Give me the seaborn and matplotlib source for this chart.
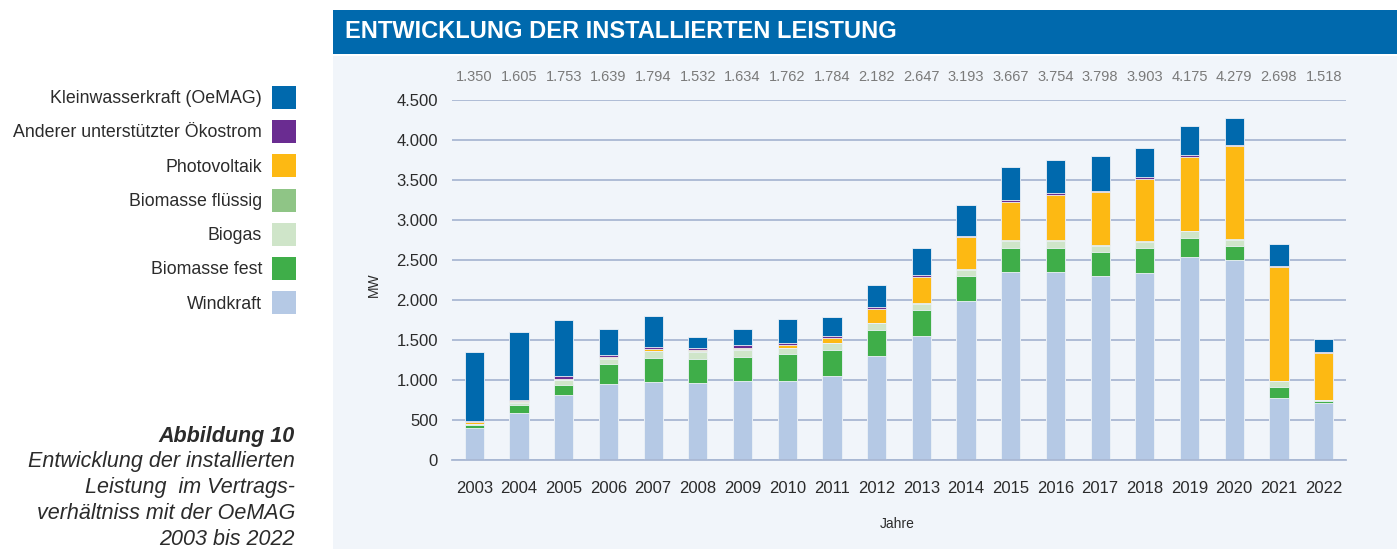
import matplotlib.pyplot as plt
import numpy as np
import pandas as pd
import seaborn as sns
from matplotlib.patches import Rectangle, Patch

# ---------------------------------------------------------------- data (MW)
years = [str(y) for y in range(2003, 2023)]
windkraft = [400, 590, 815, 950, 975, 960, 985, 985, 1055, 1305,
             1555, 1985, 2350, 2350, 2295, 2340, 2540, 2495, 780, 710]
biomasse_fest = [35, 95, 125, 255, 300, 300, 305, 335, 320, 318,
                 315, 315, 305, 305, 300, 305, 238, 175, 130, 30]
biogas = [10, 30, 55, 60, 85, 95, 85, 75, 85, 85,
          80, 80, 80, 80, 80, 80, 80, 80, 75, 12]
biomasse_fluessig = [5, 8, 8, 8, 8, 8, 8, 8, 8, 10,
                     10, 10, 10, 10, 10, 10, 10, 10, 8, 3]
photovoltaik = [20, 10, 12, 15, 20, 18, 20, 30, 55, 170,
                330, 400, 485, 570, 665, 780, 920, 1160, 1415, 585]
oekostrom = [20, 20, 30, 25, 25, 25, 30, 25, 25, 25,
             20, 15, 20, 18, 18, 18, 20, 15, 20, 12]
kleinwasserkraft = [860, 852, 708, 326, 381, 126, 201, 304, 236, 269,
                    337, 388, 417, 421, 430, 370, 367, 344, 270, 166]
totals = [1350, 1605, 1753, 1639, 1794, 1532, 1634, 1762, 1784, 2182,
          2647, 3193, 3667, 3754, 3798, 3903, 4175, 4279, 2698, 1518]

labels = ["Windkraft", "Biomasse fest", "Biogas", "Biomasse flüssig",
          "Photovoltaik", "Anderer unterstützter Ökostrom", "Kleinwasserkraft (OeMAG)"]
colors = ["#B5C9E5", "#3FAE49", "#CFE5C9", "#8FC586", "#FDB913", "#6A2C91", "#0069AD"]

df = pd.DataFrame({"Jahr": years,
                   labels[0]: windkraft, labels[1]: biomasse_fest, labels[2]: biogas,
                   labels[3]: biomasse_fluessig, labels[4]: photovoltaik,
                   labels[5]: oekostrom, labels[6]: kleinwasserkraft})
cum = df[labels].cumsum(axis=1)

sns.set_style("white")
plt.rcParams['font.family'] = ['Liberation Sans', 'DejaVu Sans']
txt = "#2b2b2b"

fig = plt.figure(figsize=(13.97, 5.49), dpi=100)

# panels
fig.patches.append(Rectangle((333 / 1397, 0), 1, 1 - 56 / 549, transform=fig.transFigure,
                             facecolor="#F1F5FA", edgecolor="none", zorder=-2))
fig.patches.append(Rectangle((333 / 1397, 1 - 54 / 549), 1, 44 / 549, transform=fig.transFigure,
                             facecolor="#0069AD", edgecolor="none", zorder=-2))
fig.text(345 / 1397, 1 - 32 / 549, "ENTWICKLUNG DER INSTALLIERTEN LEISTUNG", color="white",
         fontsize=17, fontweight="bold", va="center", ha="left")

ax = fig.add_axes([452 / 1397, 1 - 460 / 549, 894 / 1397, 360 / 549])
ax.set_facecolor("none")

# stacked bars: draw cumulative heights from top layer down
for lab, col in zip(labels[::-1], colors[::-1]):
    sns.barplot(x=df["Jahr"], y=cum[lab], color=col, saturation=1, width=0.43,
                errorbar=None, edgecolor="#EEF2F8", linewidth=0.6, ax=ax)

ax.set_ylim(0, 4500)
ax.set_xlim(-0.5, len(years) - 0.5)
yt = np.arange(0, 4501, 500)
ax.set_yticks(yt)
ax.set_yticklabels([f"{v:,}".replace(",", ".") for v in yt], fontsize=12, color=txt)
ax.set_xticks(range(len(years)))
ax.set_xticklabels(years, fontsize=12, color=txt)
ax.set_xticks(np.arange(-0.5, len(years), 1), minor=True)
ax.tick_params(axis="y", length=0, pad=10)
ax.tick_params(axis="x", which="major", length=0, pad=15)
ax.tick_params(axis="x", which="minor", length=4.5, width=1.2, color="#A9B8D3", direction="out")

ax.set_axisbelow(True)
ax.grid(axis="y", color="#A9B8D3", linewidth=1.3)
for s in ["top", "right", "left"]:
    ax.spines[s].set_visible(False)
ax.spines["bottom"].set_color("#A9B8D3")
ax.spines["bottom"].set_linewidth(1.3)

ax.set_ylabel("MW", fontsize=10, color=txt)
ax.yaxis.set_label_coords(-0.080, 0.486)
ax.set_xlabel("Jahre", fontsize=10, color=txt)
ax.xaxis.set_label_coords(0.498, -0.158)

for i, t in enumerate(totals):
    ax.text(i, 1.064, f"{t:,}".replace(",", "."), transform=ax.get_xaxis_transform(),
            ha="center", va="center", fontsize=10.5, color="#7a7a7a")

# legend on the left
handles = [Patch(facecolor=c, edgecolor="none") for c in colors[::-1]]
fig.legend(handles, labels[::-1], loc="upper right", bbox_to_anchor=(296 / 1397, 1 - 86 / 549),
           frameon=False, markerfirst=False, fontsize=12.8, handlelength=1.36, handleheight=1.6,
           labelspacing=0.64, handletextpad=0.55, borderpad=0, borderaxespad=0,
           labelcolor=txt)

# caption
cap_x = 295 / 1397
fig.text(cap_x, 1 - 442 / 549, "Abbildung 10", ha="right", va="baseline", fontsize=15.5,
         fontweight="bold", fontstyle="italic", color=txt)
cap_lines = ["Entwicklung der installierten", "Leistung  im Vertrags-",
             "verhältniss mit der OeMAG", "2003 bis 2022"]
for k, line in enumerate(cap_lines):
    fig.text(cap_x, 1 - (467 + 26 * k) / 549, line, ha="right", va="baseline",
             fontsize=15.5, fontstyle="italic", color=txt)

plt.savefig("out.png", dpi=100)
